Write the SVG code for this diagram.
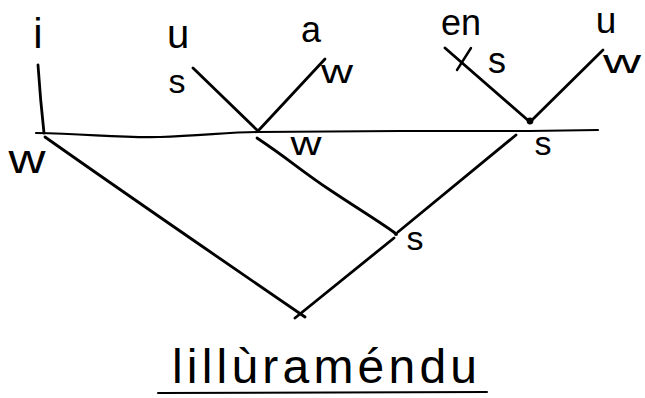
<svg xmlns="http://www.w3.org/2000/svg" width="645" height="398" viewBox="0 0 645 398">
<style>
.ln{fill:none;stroke:#000;stroke-width:2.8;stroke-linecap:round;stroke-linejoin:round}
.t{font-family:"Liberation Sans","DejaVu Sans",sans-serif;fill:#000;text-anchor:middle}
</style>
<rect width="645" height="398" fill="#fff"/>
<g id="connectors">
<path class="ln" d="M38,65 C40,95 42,115 44,133"/>
<path class="ln" d="M36,133 C90,134 120,138 160,137 C200,136 230,132 258,132 L400,131 L530,131 L598,130" style="stroke-width:2.2"/>
<path class="ln" d="M193,68 L258,131"/>
<path class="ln" d="M258,131 L325,59"/>
<path class="ln" d="M445,48 L530,122"/>
<path class="ln" d="M471,48 L457,70" style="stroke-width:2.4"/>
<path class="ln" d="M603,50 L530,122"/>
<path class="ln" d="M45,137 C120,190 200,245 305,317"/>
<path class="ln" d="M257,138 C290,160 300,170 330,190 C360,210 380,222 395,233"/>
<path class="ln" d="M516,135 L398,232"/>
<path class="ln" d="M394,238 L295,318"/>
<circle cx="530" cy="121" r="3.4"/>
<circle cx="396" cy="234" r="2"/>
</g>
<g id="n-i"><text class="t" x="38" y="48" font-size="42">i</text></g>
<g id="n-u1"><text class="t" x="178" y="48" font-size="40">u</text></g>
<g id="n-a"><text class="t" x="311" y="42" font-size="36">a</text></g>
<g id="n-en"><text class="t" x="461" y="35" font-size="36">en</text></g>
<g id="n-u2"><text class="t" x="606" y="33" font-size="37">u</text></g>
<g id="l-s1"><text class="t" x="177" y="93" font-size="34">s</text></g>
<g id="l-w1"><text class="t" x="337" y="83" font-size="34" textLength="32" lengthAdjust="spacingAndGlyphs">w</text></g>
<g id="l-s2"><text class="t" x="497" y="73" font-size="36">s</text></g>
<g id="l-w2"><text class="t" x="622" y="73" font-size="34" textLength="38" lengthAdjust="spacingAndGlyphs">w</text></g>
<g id="l-W"><text class="t" x="27" y="173" font-size="40" textLength="37" lengthAdjust="spacingAndGlyphs">w</text></g>
<g id="l-w3"><text class="t" x="306" y="155" font-size="34" textLength="31" lengthAdjust="spacingAndGlyphs">w</text></g>
<g id="l-S"><text class="t" x="543" y="155" font-size="34">s</text></g>
<g id="l-s3"><text class="t" x="415" y="250" font-size="34">s</text></g>
<g id="title">
<text x="172" y="383" font-family="Liberation Sans, DejaVu Sans, sans-serif" font-size="48" textLength="305" lengthAdjust="spacing">lillùraméndu</text>
<path class="ln" d="M158,393 L487,392" style="stroke-width:2"/>
</g>
</svg>
